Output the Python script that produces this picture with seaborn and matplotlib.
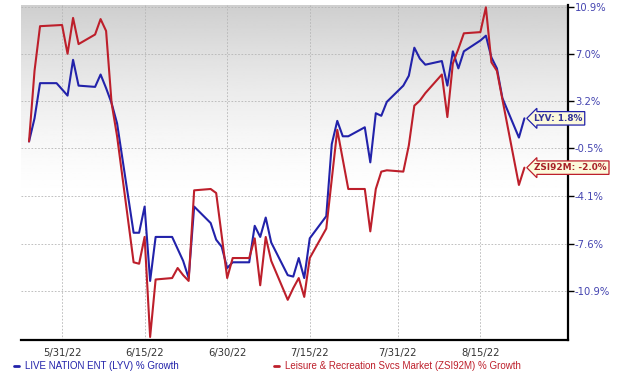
import numpy as np
import pandas as pd
import matplotlib
matplotlib.use("Agg")
import matplotlib.pyplot as plt
import seaborn as sns
from matplotlib.lines import Line2D

# ---- data (% growth) ----
lyv_dates = ["2022-05-25", "2022-05-26", "2022-05-27", "2022-05-30", "2022-05-31",
             "2022-06-01", "2022-06-02", "2022-06-03", "2022-06-06", "2022-06-07",
             "2022-06-08", "2022-06-09", "2022-06-10", "2022-06-13", "2022-06-14",
             "2022-06-15", "2022-06-16", "2022-06-17", "2022-06-20", "2022-06-22",
             "2022-06-23", "2022-06-24", "2022-06-27", "2022-06-28", "2022-06-29",
             "2022-06-30", "2022-07-01", "2022-07-04", "2022-07-05", "2022-07-06",
             "2022-07-07", "2022-07-08", "2022-07-11", "2022-07-12", "2022-07-13",
             "2022-07-14", "2022-07-15", "2022-07-18", "2022-07-19", "2022-07-20",
             "2022-07-21", "2022-07-22", "2022-07-25", "2022-07-26", "2022-07-27",
             "2022-07-28", "2022-07-29", "2022-08-01", "2022-08-02", "2022-08-03",
             "2022-08-04", "2022-08-05", "2022-08-08", "2022-08-09", "2022-08-10",
             "2022-08-11", "2022-08-12", "2022-08-15", "2022-08-16", "2022-08-17",
             "2022-08-18", "2022-08-19", "2022-08-22", "2022-08-23"]
lyv_values = [0.0, 1.8, 4.6, 4.6, 4.1,
              3.6, 6.5, 4.4, 4.3, 5.3,
              4.2, 3.0, 1.4, -6.8, -6.8,
              -4.9, -10.2, -7.1, -7.1, -8.8,
              -10.0, -4.9, -6.1, -7.3, -7.8,
              -9.3, -8.9, -8.9, -6.3, -7.1,
              -5.7, -7.5, -9.8, -9.9, -8.6,
              -10.0, -7.2, -5.6, -0.2, 1.6,
              0.4, 0.4, 1.1, -1.6, 2.2,
              2.0, 3.1, 4.4, 5.2, 7.5,
              6.6, 6.1, 6.4, 4.4, 7.2,
              5.8, 7.2, 8.1, 8.5, 6.7,
              5.8, 3.4, 0.3, 1.8]

zsi_dates = ["2022-05-25", "2022-05-26", "2022-05-27", "2022-05-31", "2022-06-01",
             "2022-06-02", "2022-06-03", "2022-06-06", "2022-06-07", "2022-06-08",
             "2022-06-09", "2022-06-10", "2022-06-13", "2022-06-14", "2022-06-15",
             "2022-06-16", "2022-06-17", "2022-06-20", "2022-06-21", "2022-06-22",
             "2022-06-23", "2022-06-24", "2022-06-27", "2022-06-28", "2022-06-30",
             "2022-07-01", "2022-07-04", "2022-07-05", "2022-07-06", "2022-07-07",
             "2022-07-08", "2022-07-11", "2022-07-12", "2022-07-13", "2022-07-14",
             "2022-07-15", "2022-07-18", "2022-07-20", "2022-07-22", "2022-07-25",
             "2022-07-26", "2022-07-27", "2022-07-28", "2022-07-29", "2022-08-01",
             "2022-08-02", "2022-08-03", "2022-08-04", "2022-08-05", "2022-08-08",
             "2022-08-09", "2022-08-10", "2022-08-11", "2022-08-12", "2022-08-15",
             "2022-08-16", "2022-08-17", "2022-08-18", "2022-08-22", "2022-08-23"]
zsi_values = [0.0, 5.6, 9.3, 9.4, 7.0,
              10.0, 7.8, 8.6, 9.9, 8.9,
              3.0, 0.4, -8.9, -9.0, -7.1,
              -14.0, -10.1, -10.0, -9.3, -9.8,
              -10.2, -3.7, -3.6, -3.9, -10.0,
              -8.6, -8.6, -7.2, -10.5, -7.1,
              -8.8, -11.5, -10.7, -10.0, -11.3,
              -8.6, -6.5, 0.9, -3.6, -3.6,
              -6.7, -3.6, -2.3, -2.2, -2.3,
              -0.3, 2.8, 3.2, 3.8, 5.3,
              1.9, 6.2, 7.4, 8.7, 8.8,
              10.9, 6.3, 5.6, -3.3, -2.0]

lyv_name = "LIVE NATION ENT (LYV) % Growth"
zsi_name = "Leisure & Recreation Svcs Market (ZSI92M) % Growth"
lyv_tag = "LYV: 1.8%"
zsi_tag = "ZSI92M: -2.0%"

y_ticks = [10.9, 7.0, 3.2, -0.5, -4.1, -7.6, -10.9]
x_tick_dates = ["2022-05-31", "2022-06-15", "2022-06-30", "2022-07-15", "2022-07-31", "2022-08-15"]
x_tick_labels = ["5/31/22", "6/15/22", "6/30/22", "7/15/22", "7/31/22", "8/15/22"]

blue = "#2222aa"
red = "#bd1f2b"

df = pd.concat([
    pd.DataFrame({"Date": pd.to_datetime(lyv_dates), "Growth": lyv_values, "Series": "LYV"}),
    pd.DataFrame({"Date": pd.to_datetime(zsi_dates), "Growth": zsi_values, "Series": "ZSI92M"}),
])

# ---- figure ----
sns.set_style("white")
plt.rcParams["font.family"] = ["DejaVu Sans"]

fig = plt.figure(figsize=(6.2, 3.76), dpi=100)
ax = fig.add_axes([21 / 620, 36 / 376, 547 / 620, 335 / 376])

# growth axis is log-scaled on (1 + g)
ax.set_yscale("function", functions=(lambda v: np.log1p(np.asarray(v) / 100.0),
                                     lambda y: np.expm1(np.asarray(y)) * 100.0))

# grey-to-white background gradient (smooth fade)
t = np.linspace(0, 1, 200)
fade = np.clip(t / 0.6, 0, 1)
grad = (0.81 + 0.19 * (1 - (1 - fade) ** 1.6))[:, None]
ax.imshow(grad, cmap="gray", vmin=0, vmax=1, aspect="auto",
          extent=[0, 1, 0, 1], transform=ax.transAxes, zorder=0, origin="upper")

sns.lineplot(data=df, x="Date", y="Growth", hue="Series",
             palette={"LYV": blue, "ZSI92M": red}, hue_order=["LYV", "ZSI92M"],
             estimator=None, sort=True, legend=False, linewidth=1.5, ax=ax, zorder=3)

ax.set_xlim(pd.Timestamp("2022-05-23 13:00"), pd.Timestamp("2022-08-30 22:00"))
ax.set_ylim(-14.2, 11.1)

ax.set_xticks(pd.to_datetime(x_tick_dates))
ax.set_xticklabels(x_tick_labels)
ax.set_yticks(y_ticks)
ax.set_yticklabels([f"{v:.1f}%" for v in y_ticks])
ax.yaxis.tick_right()
ax.set_xlabel("")
ax.set_ylabel("")

ax.tick_params(axis="y", direction="out", length=4, width=1, color="black",
               labelsize=7.2, labelcolor="#4444b0", pad=1)
ax.tick_params(axis="x", direction="out", length=4, width=1, color="black",
               labelsize=7.2, labelcolor="#333333", pad=2)

ax.grid(True, color="#b5b5b5", linestyle=(0, (2, 2)), linewidth=0.6, zorder=1)
for s in ["left", "top"]:
    ax.spines[s].set_visible(False)
for s in ["right", "bottom"]:
    ax.spines[s].set_color("black")
    ax.spines[s].set_linewidth(1.6)

# end-of-line tags
ax.annotate(lyv_tag, xy=(pd.to_datetime(lyv_dates[-1]), lyv_values[-1]),
            xytext=(7, 0), textcoords="offset points", ha="left", va="center",
            fontsize=6.4, fontweight="bold", color="#33339a", zorder=5,
            bbox=dict(boxstyle="larrow,pad=0.25", fc="#fcf9dc", ec=blue, lw=0.9))
ax.annotate(zsi_tag, xy=(pd.to_datetime(zsi_dates[-1]), zsi_values[-1]),
            xytext=(7, 0), textcoords="offset points", ha="left", va="center",
            fontsize=6.4, fontweight="bold", color="#a82027", zorder=5,
            bbox=dict(boxstyle="larrow,pad=0.25", fc="#fcf9dc", ec=red, lw=0.9))

# legend below the axis
for name, col, x0 in [(lyv_name, blue, 14 / 620), (zsi_name, red, 274 / 620)]:
    h = Line2D([0], [0], color=col, linewidth=2)
    fig.legend(handles=[h], labels=[name], loc="center left",
               bbox_to_anchor=(x0, 1 - 366 / 376), frameon=False,
               handlelength=0.5, handletextpad=0.6, borderpad=0, borderaxespad=0,
               prop={"family": "Liberation Sans", "size": 7}, labelcolor=col)

fig.savefig("out.png", dpi=100)
